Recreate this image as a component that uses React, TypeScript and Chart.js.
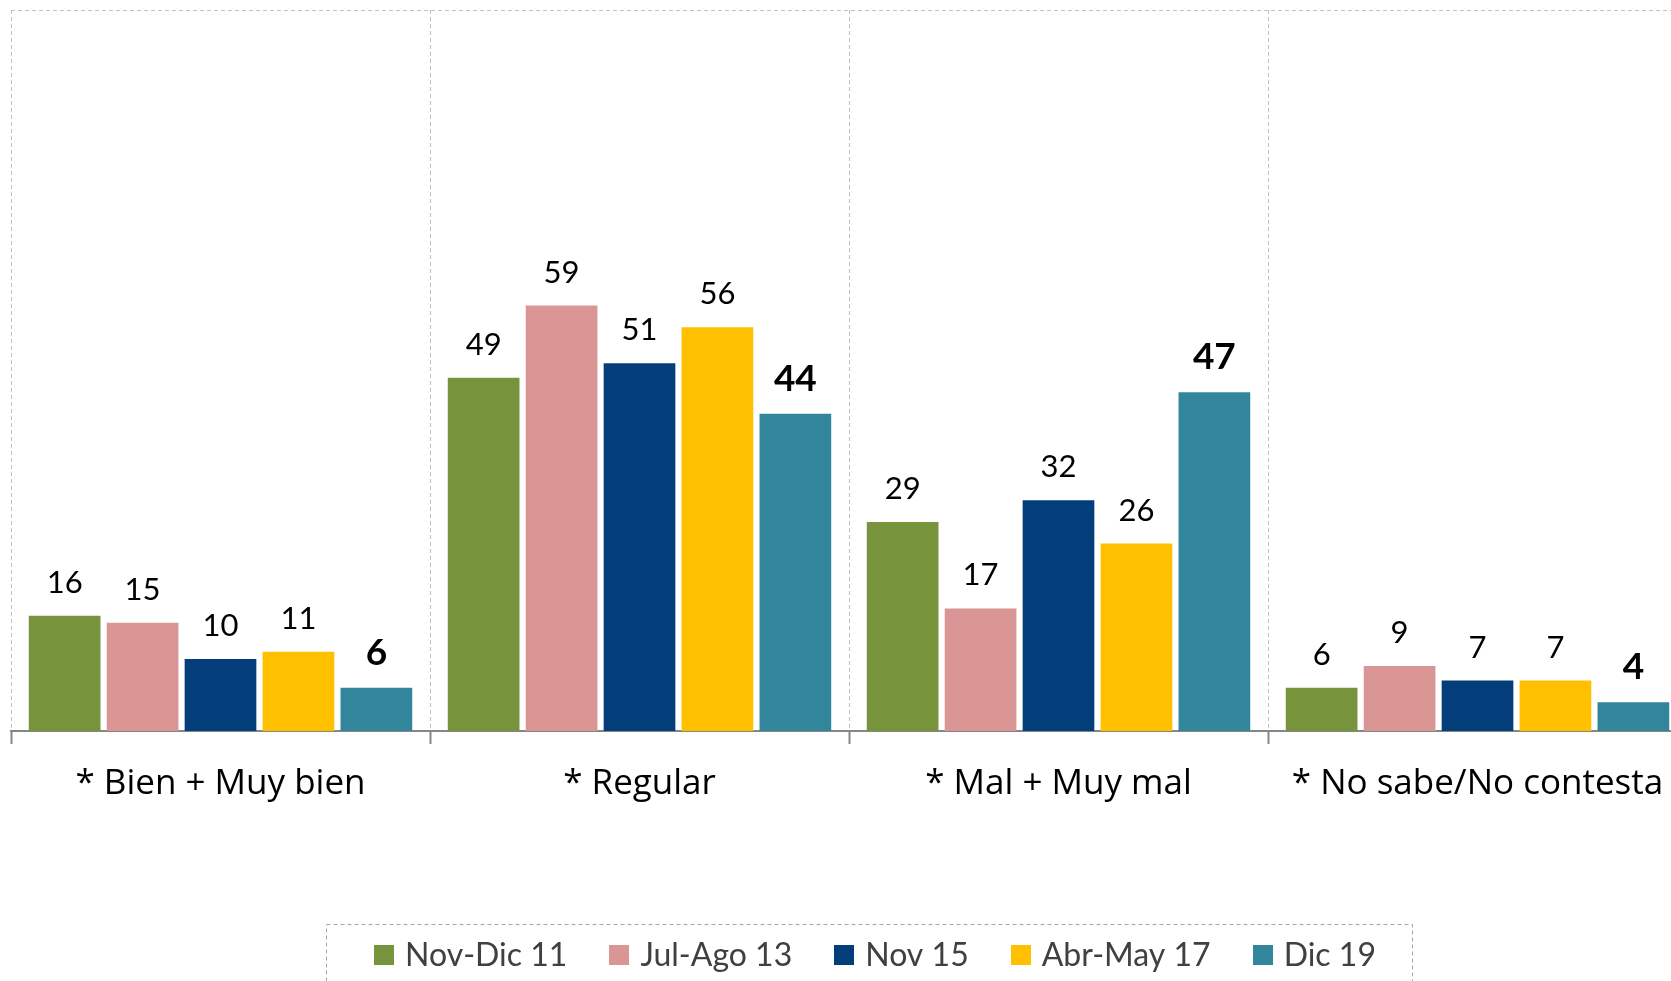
import React, { useEffect, useRef } from "react";
import { Chart, registerables } from "chart.js";

Chart.register(...registerables);

const categories = ["* Bien + Muy bien", "* Regular", "* Mal + Muy mal", "* No sabe/No contesta"];
const seriesNames = ["Nov-Dic 11", "Jul-Ago 13", "Nov 15", "Abr-May 17", "Dic 19"];
const novDic11 = [16, 49, 29, 6];
const julAgo13 = [15, 59, 17, 9];
const nov15 = [10, 51, 32, 7];
const abrMay17 = [11, 56, 26, 7];
const dic19 = [6, 44, 47, 4];
const seriesValues = [novDic11, julAgo13, nov15, abrMay17, dic19];
const seriesColors = ["#77933C", "#D99694", "#033E7B", "#FFC000", "#31869C"];
const yMin = 0;
const yMax = 100;

const FONT = "Lato";
const LABEL_FONT = "'Open Sans'";

const overlay = {
  id: "overlay",
  afterDraw(chart: any) {
    const ctx = chart.ctx;
    const area = chart.chartArea;
    ctx.save();
    // top dashed border of plot area
    ctx.strokeStyle = "#c0c0c0";
    ctx.lineWidth = 1;
    ctx.setLineDash([4, 3]);
    ctx.beginPath();
    ctx.moveTo(area.left, Math.round(area.top) + 0.5);
    ctx.lineTo(area.right, Math.round(area.top) + 0.5);
    ctx.stroke();
    ctx.setLineDash([]);

    // data labels
    const n = chart.data.datasets.length;
    chart.data.datasets.forEach((ds: any, i: number) => {
      const meta = chart.getDatasetMeta(i);
      const bold = i === n - 1;
      ctx.font = bold ? `bold 37px ${FONT}` : `31px ${FONT}`;
      ctx.fillStyle = "#000000";
      ctx.textAlign = "center";
      ctx.textBaseline = "alphabetic";
      meta.data.forEach((el: any, j: number) => {
        ctx.fillText(String(ds.data[j]), el.x, el.y - 23);
      });
    });

    // legend
    ctx.font = `32px ${FONT}`;
    const box = 20;
    const gapBoxText = 11;
    const gapItems = 42;
    const widths = chart.data.datasets.map((ds: any) => ctx.measureText(ds.label).width);
    let total = 0;
    widths.forEach((w: number, i: number) => {
      total += box + gapBoxText + w + (i < widths.length - 1 ? gapItems : 0);
    });
    const centerX = 875;
    let x = centerX - total / 2;
    const startX = x;
    const boxTop = 945;
    const baseline = 966;
    chart.data.datasets.forEach((ds: any, i: number) => {
      ctx.fillStyle = ds.backgroundColor;
      ctx.fillRect(Math.round(x), boxTop, box, box);
      ctx.fillStyle = "#404040";
      ctx.textAlign = "left";
      ctx.textBaseline = "alphabetic";
      ctx.fillText(ds.label, x + box + gapBoxText, baseline);
      x += box + gapBoxText + widths[i] + gapItems;
    });
    const endX = x - gapItems;
    ctx.strokeStyle = "#a6a6a6";
    ctx.lineWidth = 1;
    ctx.setLineDash([4, 3]);
    ctx.strokeRect(Math.round(startX - 48) + 0.5, 924.5, Math.round(endX + 36 - (startX - 48)), 80);
    ctx.restore();
  },
};

export default function App() {
  const ref = useRef<HTMLCanvasElement | null>(null);

  useEffect(() => {
    if (!ref.current) return;
    const chart = new Chart(ref.current, {
      type: "bar",
      data: {
        labels: categories,
        datasets: seriesNames.map((name, i) => ({
          label: name,
          data: seriesValues[i],
          backgroundColor: seriesColors[i],
          borderWidth: 0,
          categoryPercentage: 0.93,
          barPercentage: 0.92,
        })),
      },
      options: {
        responsive: false,
        animation: false,
        devicePixelRatio: 1,
        layout: { padding: { left: 11, top: 10, right: 0, bottom: 157 } },
        plugins: {
          legend: { display: false },
          tooltip: { enabled: false },
        },
        scales: {
          x: {
            offset: true,
            grid: {
              display: true,
              offset: true,
              color: "#c0c0c0",
              lineWidth: 1,
              drawOnChartArea: true,
              drawTicks: true,
              tickLength: 13,
              tickColor: "#868686",
              tickWidth: 2,
            },
            border: { display: true, color: "#868686", width: 2, dash: [4, 3] },
            ticks: {
              color: "#000000",
              font: { family: LABEL_FONT, size: 35 },
              padding: 19,
              maxRotation: 0,
              autoSkip: false,
            },
          },
          y: {
            display: false,
            min: yMin,
            max: yMax,
          },
        },
      },
      plugins: [overlay],
    });
    return () => chart.destroy();
  }, []);

  return (
    <div style={{ position: "fixed", left: 0, top: 0, width: 1671, height: 981, overflow: "hidden", background: "#fff" }}>
      <canvas ref={ref} width={1687} height={981} style={{ width: 1687, height: 981, display: "block" }} />
    </div>
  );
}
